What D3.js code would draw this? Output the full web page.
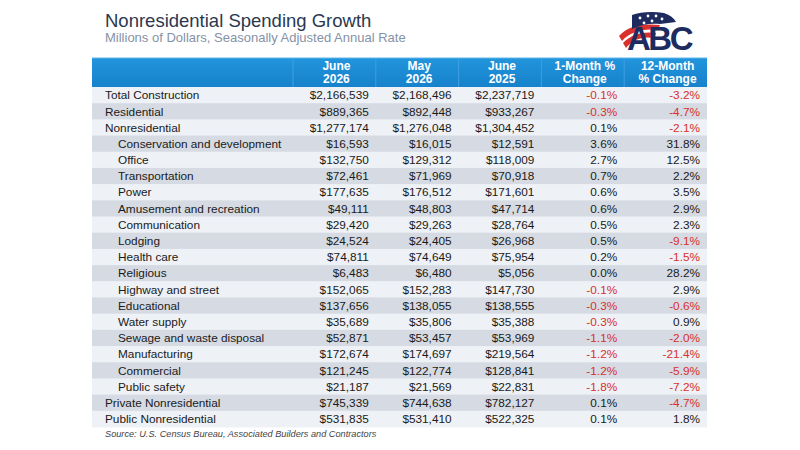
<!DOCTYPE html>
<html>
<head>
<meta charset="utf-8">
<script src="https://cdn.jsdelivr.net/npm/d3@7"></script>
<style>
  html, body { margin: 0; padding: 0; background: #fff; }
  svg { display: block; font-family: "Liberation Sans", Arial, sans-serif; }
</style>
</head>
<body>
<div id="chart"></div>
<script>
// Nonresidential spending table, ABC style

const rowLabels = [
  'Total Construction', 'Residential', 'Nonresidential',
  'Conservation and development', 'Office', 'Transportation', 'Power',
  'Amusement and recreation', 'Communication', 'Lodging', 'Health care',
  'Religious', 'Highway and street', 'Educational', 'Water supply',
  'Sewage and waste disposal', 'Manufacturing', 'Commercial', 'Public safety',
  'Private Nonresidential', 'Public Nonresidential'
];
const indented = [0, 0, 0, 1, 1, 1, 1, 1, 1, 1, 1, 1, 1, 1, 1, 1, 1, 1, 1, 0, 0];

const june2026 = [2166539, 889365, 1277174, 16593, 132750, 72461, 177635, 49111, 29420, 24524,
  74811, 6483, 152065, 137656, 35689, 52871, 172674, 121245, 21187, 745339, 531835];
const may2026 = [2168496, 892448, 1276048, 16015, 129312, 71969, 176512, 48803, 29263, 24405,
  74649, 6480, 152283, 138055, 35806, 53457, 174697, 122774, 21569, 744638, 531410];
const june2025 = [2237719, 933267, 1304452, 12591, 118009, 70918, 171601, 47714, 28764, 26968,
  75954, 5056, 147730, 138555, 35388, 53969, 219564, 128841, 22831, 782127, 522325];
const change1m = [-0.1, -0.3, 0.1, 3.6, 2.7, 0.7, 0.6, 0.6, 0.5, 0.5,
  0.2, 0.0, -0.1, -0.3, -0.3, -1.1, -1.2, -1.2, -1.8, 0.1, 0.1];
const change12m = [-3.2, -4.7, -2.1, 31.8, 12.5, 2.2, 3.5, 2.9, 2.3, -9.1,
  -1.5, 28.2, 2.9, -0.6, 0.9, -2.0, -21.4, -5.9, -7.2, -4.7, 1.8];

const colKeys = ['jun26', 'may26', 'jun25', 'm1', 'm12'];
const colHeads = [['June', '2026'], ['May', '2026'], ['June', '2025'],
  ['1-Month %', 'Change'], ['12-Month', '% Change']];

const W = 800, H = 450;
const tableLeft = 92, tableRight = 707;
const headTop = 58, headBottom = 87, tableBottom = 427;

const navy = '#2a3850';
const red = '#d8312b';

const svg = d3.select('#chart').append('svg')
  .attr('width', W).attr('height', H)
  .attr('viewBox', `0 0 ${W} ${H}`);

// Title block
svg.append('text')
  .attr('x', 105).attr('y', 27)
  .style('font-size', '18.5px').style('fill', navy)
  .text('Nonresidential Spending Growth');
svg.append('text')
  .attr('x', 105).attr('y', 42)
  .style('font-size', '13px').style('fill', '#8592a6')
  .text('Millions of Dollars, Seasonally Adjusted Annual Rate');

// Scales
const rows = d3.range(rowLabels.length);
const yScale = d3.scaleBand()
  .domain(rows)
  .range([headBottom, tableBottom]);

const xScale = d3.scaleBand()
  .domain(colKeys)
  .range([293, tableRight]);

const fmtDollar = d3.format('$,');
const fmtPct = v => v.toFixed(1) + '%';

const columns = {
  jun26: june2026.map(fmtDollar),
  may26: may2026.map(fmtDollar),
  jun25: june2025.map(fmtDollar),
  m1: change1m.map(fmtPct),
  m12: change12m.map(fmtPct)
};
const signs = { m1: change1m, m12: change12m };

// Row stripes
svg.append('g').selectAll('rect')
  .data(rows)
  .join('rect')
  .attr('x', tableLeft)
  .attr('y', d => yScale(d))
  .attr('width', tableRight - tableLeft)
  .attr('height', yScale.bandwidth() + 0.5)
  .attr('fill', d => d % 2 ? '#d6dbe3' : '#eef1f5');

// Header bar
const grad = svg.append('defs').append('linearGradient')
  .attr('id', 'hdr').attr('x1', 0).attr('x2', 0).attr('y1', 0).attr('y2', 1);
grad.append('stop').attr('offset', '0%').attr('stop-color', '#2295dc');
grad.append('stop').attr('offset', '100%').attr('stop-color', '#1682cc');

svg.append('rect')
  .attr('x', tableLeft).attr('y', headTop)
  .attr('width', tableRight - tableLeft).attr('height', headBottom - headTop)
  .attr('fill', 'url(#hdr)');
svg.append('line')
  .attr('x1', tableLeft).attr('x2', tableRight)
  .attr('y1', headTop).attr('y2', headTop)
  .style('stroke', '#5fb6ea').style('stroke-width', 1);

// header separators
svg.append('g').selectAll('line')
  .data(colKeys)
  .join('line')
  .attr('x1', d => xScale(d)).attr('x2', d => xScale(d))
  .attr('y1', headTop + 1).attr('y2', headBottom)
  .style('stroke', '#3f9fdf').style('stroke-width', 1);

const heads = svg.append('g').selectAll('text')
  .data(colKeys)
  .join('text')
  .attr('text-anchor', 'middle')
  .style('font-size', '12px').style('font-weight', 'bold').style('fill', '#fff');
heads.append('tspan')
  .attr('x', d => xScale(d) + xScale.bandwidth() / 2 + 2)
  .attr('y', headTop + 12)
  .text((d, i) => colHeads[i][0]);
heads.append('tspan')
  .attr('x', d => xScale(d) + xScale.bandwidth() / 2 + 2)
  .attr('y', headTop + 25)
  .text((d, i) => colHeads[i][1]);

// Row labels
svg.append('g').selectAll('text')
  .data(rows)
  .join('text')
  .attr('x', d => indented[d] ? 118 : 105)
  .attr('y', d => yScale(d) + yScale.bandwidth() / 2)
  .attr('dy', '0.36em')
  .style('font-size', '11.8px').style('fill', '#1a1a1a')
  .text(d => rowLabels[d]);

// Cell values
colKeys.forEach(key => {
  svg.append('g').selectAll('text')
    .data(rows)
    .join('text')
    .attr('x', xScale(key) + xScale.bandwidth() - 7)
    .attr('y', d => yScale(d) + yScale.bandwidth() / 2)
    .attr('dy', '0.36em')
    .attr('text-anchor', 'end')
    .style('font-size', '11.8px')
    .style('fill', d => (signs[key] && signs[key][d] < 0) ? red : '#1a1a1a')
    .text(d => columns[key][d]);
});

// Source
svg.append('text')
  .attr('x', 105).attr('y', 437)
  .style('font-size', '9.2px').style('font-style', 'italic').style('fill', '#444')
  .text('Source: U.S. Census Bureau, Associated Builders and Contractors');

// ABC logo (rough)
const logo = svg.append('g').attr('transform', 'translate(618,12)');
logo.append('path')
  .attr('d', 'M1,24 C10,14 24,11 42,13 L40,18 C25,16 12,20 4,29 Z')
  .attr('fill', '#d8312b');
logo.append('path')
  .attr('d', 'M5,31 C13,22 26,19 38,21 L36,26 C25,24 15,27 8,36 Z')
  .attr('fill', '#d8312b');
logo.append('path')
  .attr('d', 'M14,3 C22,0 34,-1 46,1 C52,3 56,6 58,10 L42,12 C32,11 22,13 14,17 Z')
  .attr('fill', '#1d2b5e');
[[22, 6], [30, 4], [38, 4], [26, 11], [34, 9], [44, 7]].forEach(s => {
  logo.append('circle').attr('cx', s[0]).attr('cy', s[1]).attr('r', 1.4).attr('fill', '#fff');
});
logo.append('text')
  .attr('x', 9).attr('y', 38)
  .style('font-size', '33px').style('font-weight', 'bold')
  .style('fill', '#1d2b5e').style('letter-spacing', '-2.5px')
  .text('ABC');
</script>
</body>
</html>
